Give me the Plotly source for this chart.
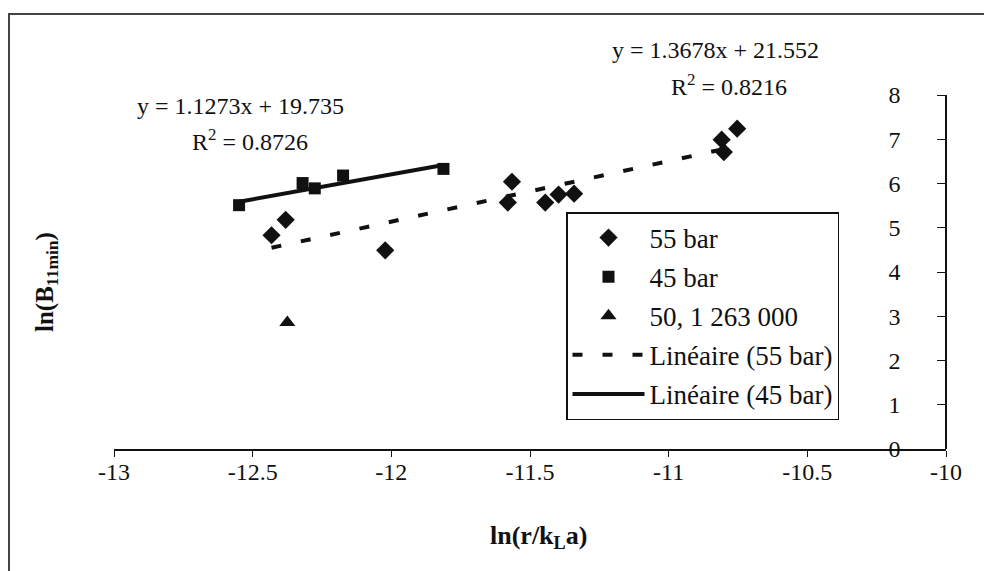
import numpy as np
import plotly.graph_objects as go

# ---- data ----
x55 = [-12.432, -12.381, -12.022, -11.565, -11.580, -11.445, -11.397, -11.341, -10.809, -10.801, -10.753]
y55 = [4.83, 5.18, 4.49, 6.04, 5.57, 5.57, 5.75, 5.77, 6.99, 6.71, 7.24]
x45 = [-12.549, -12.320, -12.276, -12.174, -11.812]
y45 = [5.51, 6.01, 5.89, 6.18, 6.33]
x50 = [-12.375]
y50 = [2.86]
fit55 = (1.3678, 21.552, 0.8216)
fit45 = (1.1273, 19.735, 0.8726)
xticks = [-13, -12.5, -12, -11.5, -11, -10.5, -10]
yticks = [0, 1, 2, 3, 4, 5, 6, 7, 8]

FONT = "Liberation Serif"
INK = "#111111"

def trend(xs, fit):
    xr = np.array([min(xs), max(xs)])
    return xr, fit[0] * xr + fit[1]

fig = go.Figure()
fig.add_trace(go.Scatter(x=x55, y=y55, mode="markers", name="55 bar", legendgroup="a",
                         marker=dict(symbol="diamond", size=14, color=INK)))
fig.add_trace(go.Scatter(x=x45, y=y45, mode="markers", name="45 bar", legendgroup="b",
                         marker=dict(symbol="square", size=12, color=INK)))
fig.add_trace(go.Scatter(x=x50, y=y50, mode="markers", name="50, 1 263 000", legendgroup="c",
                         marker=dict(symbol="triangle-up", size=14, color=INK)))
tx, ty = trend(x55, fit55)
fig.add_trace(go.Scatter(x=tx, y=ty, mode="lines", name="Linéaire (55 bar)", legendgroup="d",
                         line=dict(color=INK, width=4, dash="10px,20px")))
tx, ty = trend(x45, fit45)
fig.add_trace(go.Scatter(x=tx, y=ty, mode="lines", name="Linéaire (45 bar)", legendgroup="e",
                         line=dict(color=INK, width=4)))

L, R, T, B = 106, 54, 87, 130
W, H = 992, 571
pw, ph = W - L - R, H - T - B

def px(xpix):
    return (xpix - L) / pw

def py(ypix):
    return (H - B - ypix) / ph

fig.update_layout(
    width=W, height=H,
    margin=dict(l=L, r=R, t=T, b=B),
    paper_bgcolor="white", plot_bgcolor="white",
    font=dict(family=FONT, size=24, color=INK),
    showlegend=True,
    legend=dict(x=px(558), y=py(204), xanchor="left", yanchor="top",
                bgcolor="white", bordercolor=INK, borderwidth=1.5,
                font=dict(family=FONT, size=27, color=INK),
                itemwidth=72, tracegroupgap=1),
    xaxis=dict(range=[-13, -10], tickvals=xticks, ticktext=[f"{v:g}" for v in xticks],
               domain=[0, 1],
               showline=True, linecolor=INK, linewidth=1.5, ticks="outside", ticklen=6,
               tickcolor=INK, showgrid=False, zeroline=False, ticklabelstandoff=-6,
               tickfont=dict(family=FONT, size=24, color=INK)),
    yaxis=dict(range=[0, 8], tickvals=yticks, side="left", anchor="free", position=1.0,
               showline=True, linecolor=INK, linewidth=1.5, ticks="outside", ticklen=8,
               tickcolor=INK, showgrid=False, zeroline=False, ticklabelstandoff=32,
               tickfont=dict(family=FONT, size=24, color=INK)),
)

ann = [
    dict(text=f"y = {fit55[0]}x + {fit55[1]}", x=px(707), y=py(42)),
    dict(text=f"R<sup>2</sup> = {fit55[2]}", x=px(721), y=py(77)),
    dict(text=f"y = {fit45[0]}x + {fit45[1]}", x=px(232), y=py(98)),
    dict(text=f"R<sup>2</sup> = {fit45[2]}", x=px(242), y=py(132)),
]
for a in ann:
    fig.add_annotation(xref="paper", yref="paper", showarrow=False,
                       xanchor="center", yanchor="middle",
                       font=dict(family=FONT, size=24, color=INK), **a)

fig.add_annotation(xref="paper", yref="paper", showarrow=False,
                   text="<b>ln(B<sub>11min</sub>)</b>", textangle=-90,
                   x=px(38), y=py(274), xanchor="center", yanchor="middle",
                   font=dict(family=FONT, size=25, color=INK))
fig.add_annotation(xref="paper", yref="paper", showarrow=False,
                   text="<b>ln(r/k<sub>L</sub>a)</b>",
                   x=px(530), y=py(529), xanchor="center", yanchor="middle",
                   font=dict(family=FONT, size=26, color=INK))

fig.add_shape(type="rect", xref="paper", yref="paper",
              x0=px(1), x1=px(984), y0=py(600), y1=py(6),
              line=dict(color="#444444", width=2), layer="below")

fig.write_html("out.html")
